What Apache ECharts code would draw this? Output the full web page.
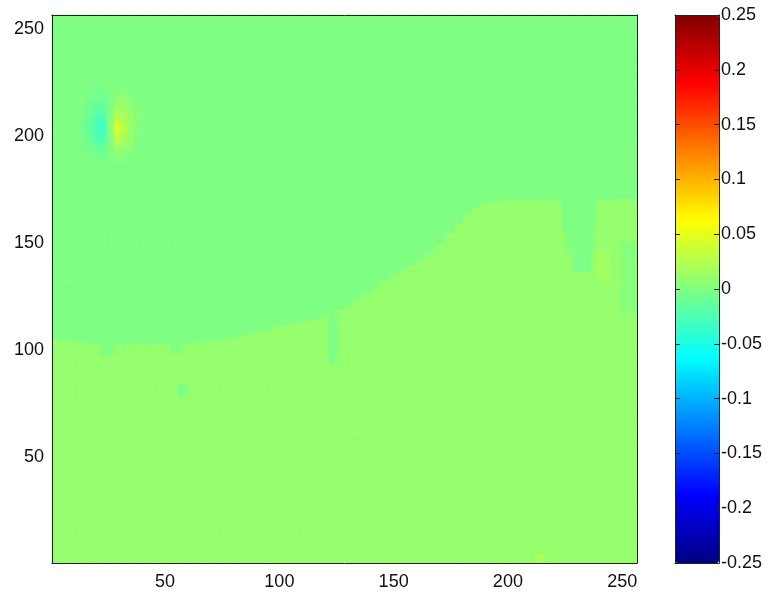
<!DOCTYPE html>
<html>
<head>
<meta charset="utf-8">
<script src="https://cdn.jsdelivr.net/npm/echarts@6/dist/echarts.min.js"></script>
<style>html,body{margin:0;padding:0;background:#fff;}#c{width:771px;height:596px;}</style>
</head>
<body>
<div id="c"></div>
<script>
// ---- data ----
const gridSize = 256;
const xTickLabels = ['50', '100', '150', '200', '250'];
const yTickLabels = ['50', '100', '150', '200', '250'];
const colorbarMin = -0.25;
const colorbarMax = 0.25;
const colorbarStep = 0.05;
const upperValue = -0.001;   // field above the front
const lowerValue = 0.010;    // field below the front
// top row of the lower region, one entry per 4-column block (cols 1-4, 5-8, ...)
const frontRows = [104, 104, 103, 103,
                   102, 102, 102, 102, 102, 102, 102, 102, 102, 102, 102,
                   103, 103, 104, 104, 105, 106, 107, 108, 109, 110, 111, 112, 113, 114, 115, 116,
                   118, 120, 123, 126, 129, 132, 135, 137, 139, 142, 145, 149, 154, 159, 163, 166, 168, 169,
                   170, 170, 170, 170, 170, 170, 170, 170, 170, 170, 170, 170, 170, 170, 170];
// small patches: [colStart, colEnd, rowStart, rowEnd, value]
const patches = [
  [22, 27, 98, 102, -0.001],
  [53, 57, 99, 102, -0.001],
  [56, 59, 79, 84, -0.002],
  [122, 125, 94, 117, -0.002],
  [224, 238, 156, 170, -0.001],
  [226, 237, 146, 156, -0.001],
  [229, 236, 137, 146, -0.002],
  [239, 244, 133, 146, 0.016],
  [250, 256, 118, 150, 0.003],
  [212, 216, 1, 4, 0.020]
];
// dipole near (col 25, row 205): 3x3-unit blocks, cols starting at 13, rows from 223 downward
const dipoleCol0 = 13;
const dipoleRowTop = 223;
const dipoleValues = [
  [0.000, 0.000, -0.003, -0.003, 0.000, 0.003, 0.003, 0.000, 0.000],
  [0.000, -0.003, -0.006, -0.006, 0.000, 0.006, 0.006, 0.003, 0.000],
  [0.000, -0.005, -0.010, -0.010, 0.000, 0.010, 0.010, 0.005, 0.000],
  [-0.003, -0.008, -0.015, -0.015, 0.000, 0.015, 0.015, 0.008, 0.003],
  [-0.003, -0.010, -0.020, -0.020, 0.002, 0.022, 0.020, 0.010, 0.003],
  [-0.005, -0.012, -0.025, -0.028, 0.003, 0.035, 0.025, 0.012, 0.003],
  [-0.005, -0.013, -0.028, -0.032, 0.005, 0.045, 0.030, 0.013, 0.003],
  [-0.005, -0.012, -0.025, -0.028, 0.003, 0.038, 0.025, 0.012, 0.003],
  [-0.003, -0.010, -0.020, -0.020, 0.002, 0.025, 0.020, 0.010, 0.003],
  [-0.003, -0.006, -0.012, -0.012, 0.000, 0.015, 0.012, 0.006, 0.000],
  [0.000, -0.003, -0.006, -0.006, 0.000, 0.008, 0.006, 0.003, 0.000],
  [0.000, 0.000, -0.003, -0.003, 0.000, 0.003, 0.003, 0.000, 0.000]
];
const jetColors = ['#000080', '#0000ff', '#0080ff', '#00ffff', '#80ff80', '#ffff00', '#ff8000', '#ff0000', '#800000'];

// ---- build heatmap table ----
const categories = [];
for (let i = 1; i <= gridSize; i++) categories.push(String(i));
const cells = [];
for (let c = 1; c <= gridSize; c++) {
  for (let r = 1; r <= gridSize; r++) {
    let v = r <= frontRows[Math.floor((c - 1) / 4)] ? lowerValue : upperValue;
    for (const p of patches) {
      if (c >= p[0] && c <= p[1] && r >= p[2] && r <= p[3]) v = p[4];
    }
    const bi = Math.floor((c - dipoleCol0) / 3);
    const bj = Math.floor((dipoleRowTop - r) / 3);
    if (c >= dipoleCol0 && bi < dipoleValues[0].length && r <= dipoleRowTop && bj < dipoleValues.length) {
      v = upperValue + dipoleValues[bj][bi];
    }
    cells.push([c - 1, r - 1, v]);
  }
}

const labelFont = { fontFamily: 'Liberation Sans, Arial, sans-serif', fontSize: 18, color: '#111' };
const tickShown = (labels) => (idx, val) => labels.indexOf(val) >= 0;
const frameLine = { show: true, onZero: false, lineStyle: { color: '#222', width: 1 } };

const chart = echarts.init(document.getElementById('c'), null, { renderer: 'canvas' });
chart.setOption({
  animation: false,
  backgroundColor: '#fff',
  grid: [
    { left: 52, top: 15, width: 585, height: 548, show: false },
    { left: 675, top: 15, width: 44, height: 548, show: false }
  ],
  xAxis: [
    { gridIndex: 0, type: 'category', data: categories, boundaryGap: true, z: 5,
      axisLine: frameLine, axisTick: { show: false },
      axisLabel: Object.assign({ interval: tickShown(xTickLabels), margin: 10 }, labelFont),
      splitLine: { show: false } },
    { gridIndex: 0, type: 'category', data: categories, position: 'top', z: 5,
      axisLine: frameLine, axisTick: { show: false }, axisLabel: { show: false }, splitLine: { show: false } },
    { gridIndex: 1, type: 'value', min: 0, max: 1, z: 5,
      axisLine: frameLine, axisTick: { show: false }, axisLabel: { show: false }, splitLine: { show: false } },
    { gridIndex: 1, type: 'value', min: 0, max: 1, position: 'top', z: 5,
      axisLine: frameLine, axisTick: { show: false }, axisLabel: { show: false }, splitLine: { show: false } }
  ],
  yAxis: [
    { gridIndex: 0, type: 'category', data: categories, boundaryGap: true, z: 5,
      axisLine: frameLine, axisTick: { show: false },
      axisLabel: Object.assign({ interval: tickShown(yTickLabels), margin: 8 }, labelFont),
      splitLine: { show: false } },
    { gridIndex: 0, type: 'category', data: categories, position: 'right', z: 5,
      axisLine: frameLine, axisTick: { show: false }, axisLabel: { show: false }, splitLine: { show: false } },
    { gridIndex: 1, type: 'value', min: colorbarMin, max: colorbarMax, interval: colorbarStep, position: 'right', z: 5,
      axisLine: frameLine,
      axisTick: { show: true, inside: true, length: 5, lineStyle: { color: '#222' } },
      axisLabel: Object.assign({ margin: 2, formatter: v => String(parseFloat(v.toFixed(2))) }, labelFont),
      splitLine: { show: false } },
    { gridIndex: 1, type: 'value', min: colorbarMin, max: colorbarMax, interval: colorbarStep, position: 'left', z: 5,
      axisLine: frameLine,
      axisTick: { show: true, inside: true, length: 5, lineStyle: { color: '#222' } },
      axisLabel: { show: false }, splitLine: { show: false } }
  ],
  visualMap: {
    type: 'continuous',
    seriesIndex: 0,
    min: colorbarMin, max: colorbarMax,
    calculable: false, hoverLink: false,
    orient: 'vertical',
    left: 675, top: 15, padding: 0,
    itemWidth: 44, itemHeight: 548,
    text: null,
    showLabel: false,
    inRange: { color: jetColors }
  },
  series: [{
    type: 'heatmap',
    xAxisIndex: 0, yAxisIndex: 0,
    data: cells,
    progressive: 0,
    itemStyle: { borderWidth: 0 },
    emphasis: { disabled: true },
    z: 1
  }]
});
</script>
</body>
</html>
